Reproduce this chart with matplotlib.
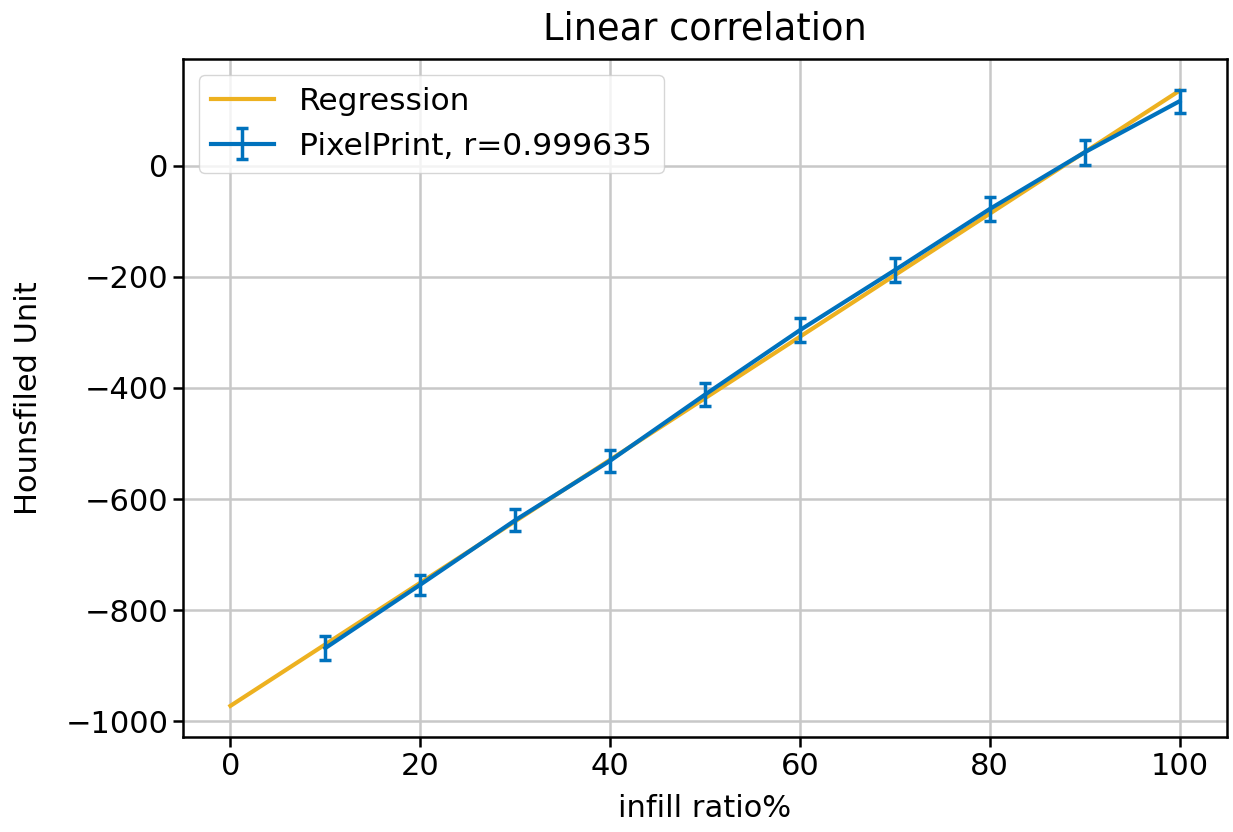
import matplotlib
matplotlib.use("Agg")
import matplotlib.pyplot as plt
import numpy as np

infill = [10, 20, 30, 40, 50, 60, 70, 80, 90, 100]
hu = [-868, -754, -638, -531, -412, -296, -188, -78, 24, 116]
hu_err = [21, 18, 20, 20, 21, 22, 22, 22, 22, 21]

# regression line endpoints
reg_x = [0, 100]
reg_y = [-972, 135]

plt.rcParams['font.size'] = 22

fig = plt.figure(figsize=(12.33, 8.32), dpi=100)
ax = fig.add_axes([0.1484, 0.1142, 0.8467, 0.8149])

ax.plot(reg_x, reg_y, color="#EDB120", linewidth=3, label="Regression")
ax.errorbar(infill, hu, yerr=hu_err, color="#0072BD", linewidth=3,
            capsize=4.5, capthick=2.5, elinewidth=2.5,
            label="PixelPrint, r=0.999635")

ax.set_xlim(-5, 105)
ax.set_ylim(-1028, 192)
ax.set_xticks([0, 20, 40, 60, 80, 100])
ax.set_yticks([-1000, -800, -600, -400, -200, 0])
ax.grid(True, color="#c8c8c8", linewidth=1.8)
ax.set_axisbelow(True)
for s in ax.spines.values():
    s.set_linewidth(1.8)
ax.tick_params(length=7, width=1.8)

ax.set_title("Linear correlation", fontsize=26.5, pad=14)
ax.set_xlabel("infill ratio%", labelpad=10)
ax.set_ylabel("Hounsfiled Unit", labelpad=16)
ax.legend(loc="upper left", fontsize=22.5)

fig.savefig("out.png", dpi=100)
